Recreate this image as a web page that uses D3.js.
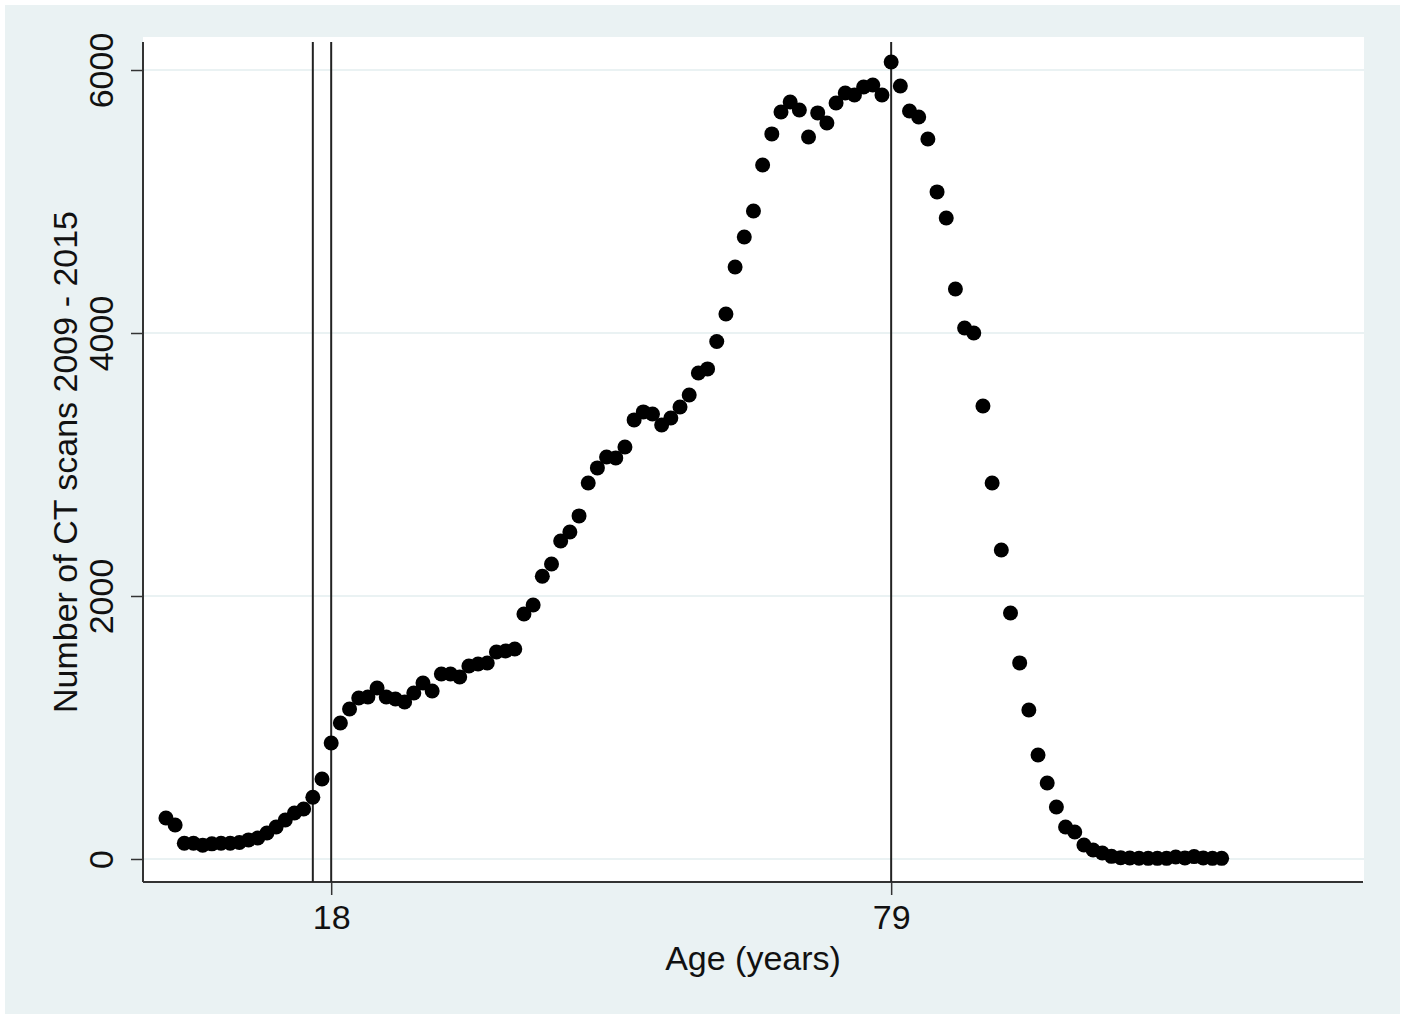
<!DOCTYPE html>
<html>
<head>
<meta charset="utf-8">
<script src="https://cdn.jsdelivr.net/npm/d3@7"></script>
<style>
  body { margin: 0; background: #ffffff; }
  text { font-family: "Liberation Sans", Arial, Helvetica, sans-serif; fill: #111; }
</style>
</head>
<body>
<div id="chart_area"></div>
<script>
// ages 0..115
var ages = d3.range(0, 116);
// number of CT scans per age
var scans = [
  312, 258, 120, 120, 105, 115, 120, 120, 125, 145,
  160, 198, 243, 297, 350, 380, 470, 608, 882, 1034,
  1141, 1224, 1232, 1300, 1232, 1217, 1194, 1262, 1338, 1278,
  1407, 1407, 1384, 1468, 1483, 1490, 1574, 1582, 1597, 1863,
  1932, 2150, 2243, 2418, 2487, 2609, 2859, 2974, 3057, 3050,
  3133, 3339, 3400, 3384, 3300, 3354, 3437, 3529, 3696, 3727,
  3935, 4145, 4502, 4730, 4928, 5278, 5514, 5681, 5757, 5696,
  5491, 5674, 5597, 5749, 5825, 5810, 5871, 5886, 5810, 6061,
  5878, 5688, 5643, 5475, 5073, 4875, 4335, 4038, 4000, 3445,
  2859, 2350, 1871, 1491, 1133, 791, 578, 395, 243, 205,
  106, 68, 46, 20, 10, 8, 6, 5, 5, 5,
  15, 8, 18, 8, 5, 5
];
var yTicks = [0, 2000, 4000, 6000];
var xTicks = [18, 79];
var refLines = [16, 18, 79];

var data = ages.map(function (a, i) { return { age: a, n: scans[i] }; });

var W = 1406, H = 1019;
var plot = { left: 143, right: 1363, top: 42, bottom: 882 };

var svg = d3.select("#chart_area").append("svg")
    .attr("width", W)
    .attr("height", H);

// outer (graph region) background
svg.append("rect")
    .attr("x", 5).attr("y", 5)
    .attr("width", 1395).attr("height", 1009)
    .attr("fill", "#eaf2f3");

// plot region
svg.append("rect")
    .attr("x", plot.left).attr("y", 37)
    .attr("width", 1364 - plot.left).attr("height", plot.bottom - 37)
    .attr("fill", "#ffffff");

// scales
var x = d3.scaleLinear().domain([-2.5, 130.4]).range([plot.left, plot.right]);
var y = d3.scaleLinear().domain([-175, 6213]).range([plot.bottom, plot.top]);

// grid lines
svg.append("g")
    .selectAll("line")
    .data(yTicks)
    .enter().append("line")
    .attr("x1", plot.left).attr("x2", 1364)
    .attr("y1", function (d) { return y(d); })
    .attr("y2", function (d) { return y(d); })
    .attr("stroke", "#eaf2f3")
    .attr("stroke-width", 2);

// Y axis
var yAxis = svg.append("g")
    .attr("transform", "translate(" + plot.left + ",0)")
    .call(d3.axisLeft(y).tickValues(yTicks).tickSize(12).tickPadding(0).tickFormat(d3.format("d")));
yAxis.select(".domain").remove();
yAxis.selectAll(".tick line").attr("stroke", "#333").attr("stroke-width", 1.5);
yAxis.selectAll(".tick text")
    .attr("x", null).attr("dy", null)
    .attr("text-anchor", "middle")
    .attr("transform", "translate(-30,0) rotate(-90)")
    .style("font-size", "34px");

svg.append("line")
    .attr("x1", plot.left).attr("x2", plot.left)
    .attr("y1", plot.top).attr("y2", plot.bottom)
    .attr("stroke", "#333").attr("stroke-width", 2);

// X axis
var xAxis = svg.append("g")
    .attr("transform", "translate(0," + plot.bottom + ")")
    .call(d3.axisBottom(x).tickValues(xTicks).tickSize(13).tickPadding(10));
xAxis.select(".domain").remove();
xAxis.selectAll(".tick line").attr("stroke", "#333").attr("stroke-width", 1.5);
xAxis.selectAll(".tick text").style("font-size", "34px");

svg.append("line")
    .attr("x1", plot.left).attr("x2", plot.right)
    .attr("y1", plot.bottom).attr("y2", plot.bottom)
    .attr("stroke", "#333").attr("stroke-width", 2);

// reference lines
svg.append("g")
    .selectAll("line")
    .data(refLines)
    .enter().append("line")
    .attr("x1", function (d) { return x(d); })
    .attr("x2", function (d) { return x(d); })
    .attr("y1", plot.top).attr("y2", plot.bottom)
    .attr("stroke", "#222")
    .attr("stroke-width", 2);

// points
svg.append("g")
    .selectAll("circle")
    .data(data)
    .enter().append("circle")
    .attr("cx", function (d) { return x(d.age); })
    .attr("cy", function (d) { return y(d.n); })
    .attr("r", 7.5)
    .attr("fill", "#000");

// axis titles
svg.append("text")
    .attr("x", (plot.left + plot.right) / 2)
    .attr("y", 970)
    .attr("text-anchor", "middle")
    .style("font-size", "34px")
    .text("Age (years)");

svg.append("text")
    .attr("transform", "translate(77," + (plot.top + plot.bottom) / 2 + ") rotate(-90)")
    .attr("text-anchor", "middle")
    .style("font-size", "34px")
    .text("Number of CT scans 2009 - 2015");
</script>
</body>
</html>
